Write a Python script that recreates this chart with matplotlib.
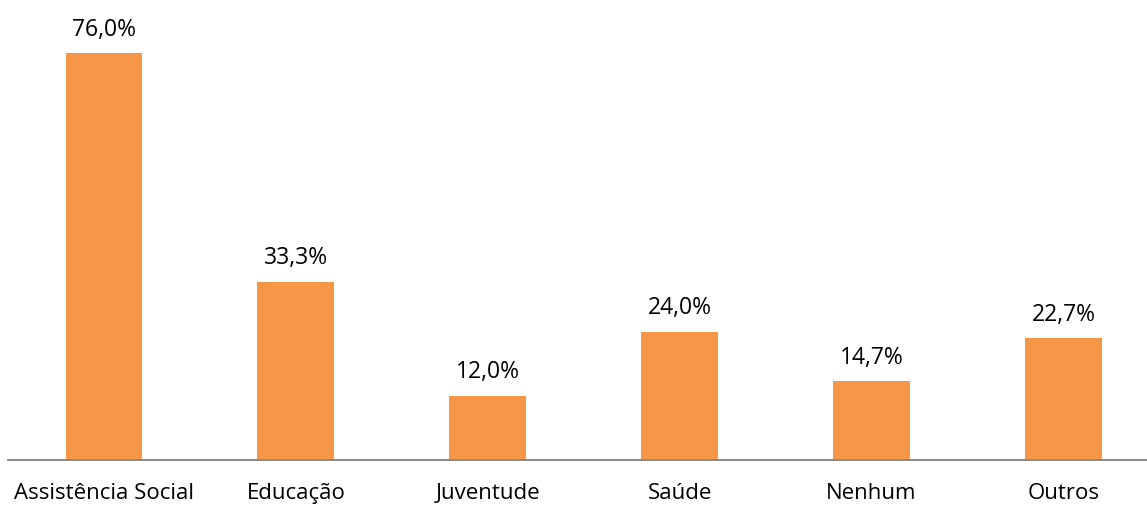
import matplotlib.pyplot as plt

categorias = ['Assistência Social', 'Educação', 'Juventude', 'Saúde', 'Nenhum', 'Outros']
valores = [76.0, 33.3, 12.0, 24.0, 14.7, 22.7]
rotulos = ['76,0%', '33,3%', '12,0%', '24,0%', '14,7%', '22,7%']

plt.rcParams['font.family'] = ['Open Sans', 'DejaVu Sans']

fig = plt.figure(figsize=(11.47, 5.06), dpi=100)
ax = fig.add_axes([8 / 1147, 45 / 506, 1138 / 1147, 455 / 506])

x = range(len(categorias))
barras = ax.bar(x, valores, width=0.40, color='#F79646')

for b, txt in zip(barras, rotulos):
    ax.annotate(txt, (b.get_x() + b.get_width() / 2, b.get_height()),
                xytext=(0, 9), textcoords='offset points',
                ha='center', va='bottom', fontsize=16.5, color='#000000')

ax.set_xlim(-0.5, 5.43)
ax.set_ylim(0, 85)
ax.set_xticks(list(x))
ax.set_xticklabels(categorias, fontsize=16)
ax.tick_params(axis='x', length=0, pad=16)
ax.set_yticks([])

for lado in ['top', 'right', 'left']:
    ax.spines[lado].set_visible(False)
ax.spines['bottom'].set_color('#898989')
ax.spines['bottom'].set_linewidth(1.4)

fig.savefig('out.png', dpi=100)
